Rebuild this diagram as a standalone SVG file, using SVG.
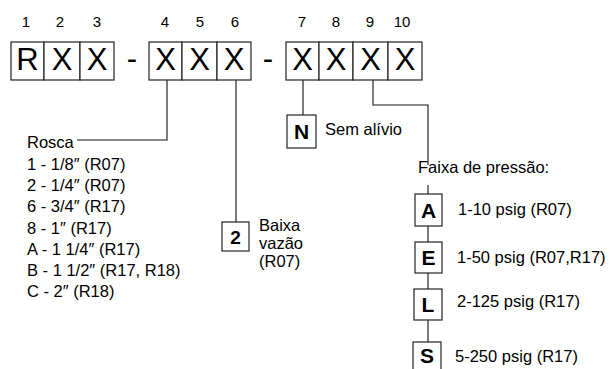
<svg xmlns="http://www.w3.org/2000/svg" width="610" height="369" viewBox="0 0 610 369">
<style>
text{font-family:"Liberation Sans",Arial,sans-serif;fill:#000}
.num{font-size:15px;text-anchor:middle}
.big{font-size:31px;text-anchor:middle}
.lbl{font-size:16.5px}
.opt{font-size:21px;font-weight:bold;text-anchor:middle}
.box{fill:#fff;stroke:#222;stroke-width:1.2}
.ln{fill:none;stroke:#111;stroke-width:1.1}
</style>
<rect width="610" height="369" fill="#fff"/>
<g id="connectors">
<polyline class="ln" points="167,80 167,140 77,140"/>
<line class="ln" x1="236" y1="80" x2="236" y2="222"/>
<line class="ln" x1="303" y1="80" x2="303" y2="115"/>
<polyline class="ln" points="373,80 373,105 428,105 428,165"/>
<line class="ln" x1="428" y1="185" x2="428" y2="194"/>
<line class="ln" x1="428" y1="226" x2="428" y2="242"/>
<line class="ln" x1="428" y1="273" x2="428" y2="289"/>
<line class="ln" x1="428" y1="320" x2="428" y2="342"/>
</g>
<g id="group1">
<rect class="box" x="11" y="42" width="33" height="38"/>
<rect class="box" x="44" y="42" width="36" height="38"/>
<rect class="box" x="80" y="42" width="34" height="38"/>
<text class="big" x="27.5" y="69.5">R</text>
<text class="big" x="62" y="69.5">X</text>
<text class="big" x="97" y="69.5">X</text>
<text class="num" x="26" y="27">1</text>
<text class="num" x="60" y="27">2</text>
<text class="num" x="97" y="27">3</text>
</g>
<text id="dash1" class="big" x="132" y="69">-</text>
<g id="group2">
<rect class="box" x="149" y="42" width="33" height="38"/>
<rect class="box" x="182" y="42" width="35" height="38"/>
<rect class="box" x="217" y="42" width="34" height="38"/>
<text class="big" x="165.5" y="69.5">X</text>
<text class="big" x="199.5" y="69.5">X</text>
<text class="big" x="234" y="69.5">X</text>
<text class="num" x="165" y="27">4</text>
<text class="num" x="200" y="27">5</text>
<text class="num" x="235" y="27">6</text>
</g>
<text id="dash2" class="big" x="268" y="69">-</text>
<g id="group3">
<rect class="box" x="286" y="42" width="33" height="38"/>
<rect class="box" x="319" y="42" width="34" height="38"/>
<rect class="box" x="353" y="42" width="35" height="38"/>
<rect class="box" x="388" y="42" width="34" height="38"/>
<text class="big" x="302.5" y="69.5">X</text>
<text class="big" x="336" y="69.5">X</text>
<text class="big" x="370.5" y="69.5">X</text>
<text class="big" x="405" y="69.5">X</text>
<text class="num" x="302" y="27">7</text>
<text class="num" x="336" y="27">8</text>
<text class="num" x="370" y="27">9</text>
<text class="num" x="402" y="27">10</text>
</g>
<g id="rosca">
<text class="lbl" x="27" y="148">Rosca</text>
<text class="lbl" x="27" y="170">1 - 1/8″ (R07)</text>
<text class="lbl" x="27" y="191">2 - 1/4″ (R07)</text>
<text class="lbl" x="27" y="212">6 - 3/4″ (R17)</text>
<text class="lbl" x="27" y="234">8 - 1″ (R17)</text>
<text class="lbl" x="27" y="255">A - 1 1/4″ (R17)</text>
<text class="lbl" x="27" y="276">B - 1 1/2″ (R17, R18)</text>
<text class="lbl" x="27" y="297">C - 2″ (R18)</text>
</g>
<g id="opt2">
<rect class="box" x="222" y="222" width="27" height="29"/>
<text class="opt" x="235.5" y="244" style="font-size:19px">2</text>
<text class="lbl" x="259" y="231">Baixa</text>
<text class="lbl" x="259" y="249">vazão</text>
<text class="lbl" x="259" y="267">(R07)</text>
</g>
<g id="optN">
<rect class="box" x="287" y="115" width="29" height="33"/>
<text class="opt" x="301.5" y="139">N</text>
<text class="lbl" x="325" y="135">Sem alívio</text>
</g>
<g id="faixa">
<text class="lbl" x="418" y="173">Faixa de pressão:</text>
</g>
<g id="optA">
<rect class="box" x="415" y="194" width="27" height="32"/>
<text class="opt" x="428.5" y="218">A</text>
<text class="lbl" x="458" y="215">1-10 psig (R07)</text>
</g>
<g id="optE">
<rect class="box" x="415" y="242" width="27" height="31"/>
<text class="opt" x="428.5" y="265">E</text>
<text class="lbl" x="457" y="263">1-50 psig (R07,R17)</text>
</g>
<g id="optL">
<rect class="box" x="414" y="289" width="28" height="31"/>
<text class="opt" x="428" y="312">L</text>
<text class="lbl" x="457" y="307">2-125 psig (R17)</text>
</g>
<g id="optS">
<rect class="box" x="413" y="342" width="28" height="30"/>
<text class="opt" x="427" y="363">S</text>
<text class="lbl" x="455" y="362">5-250 psig (R17)</text>
</g>
</svg>
